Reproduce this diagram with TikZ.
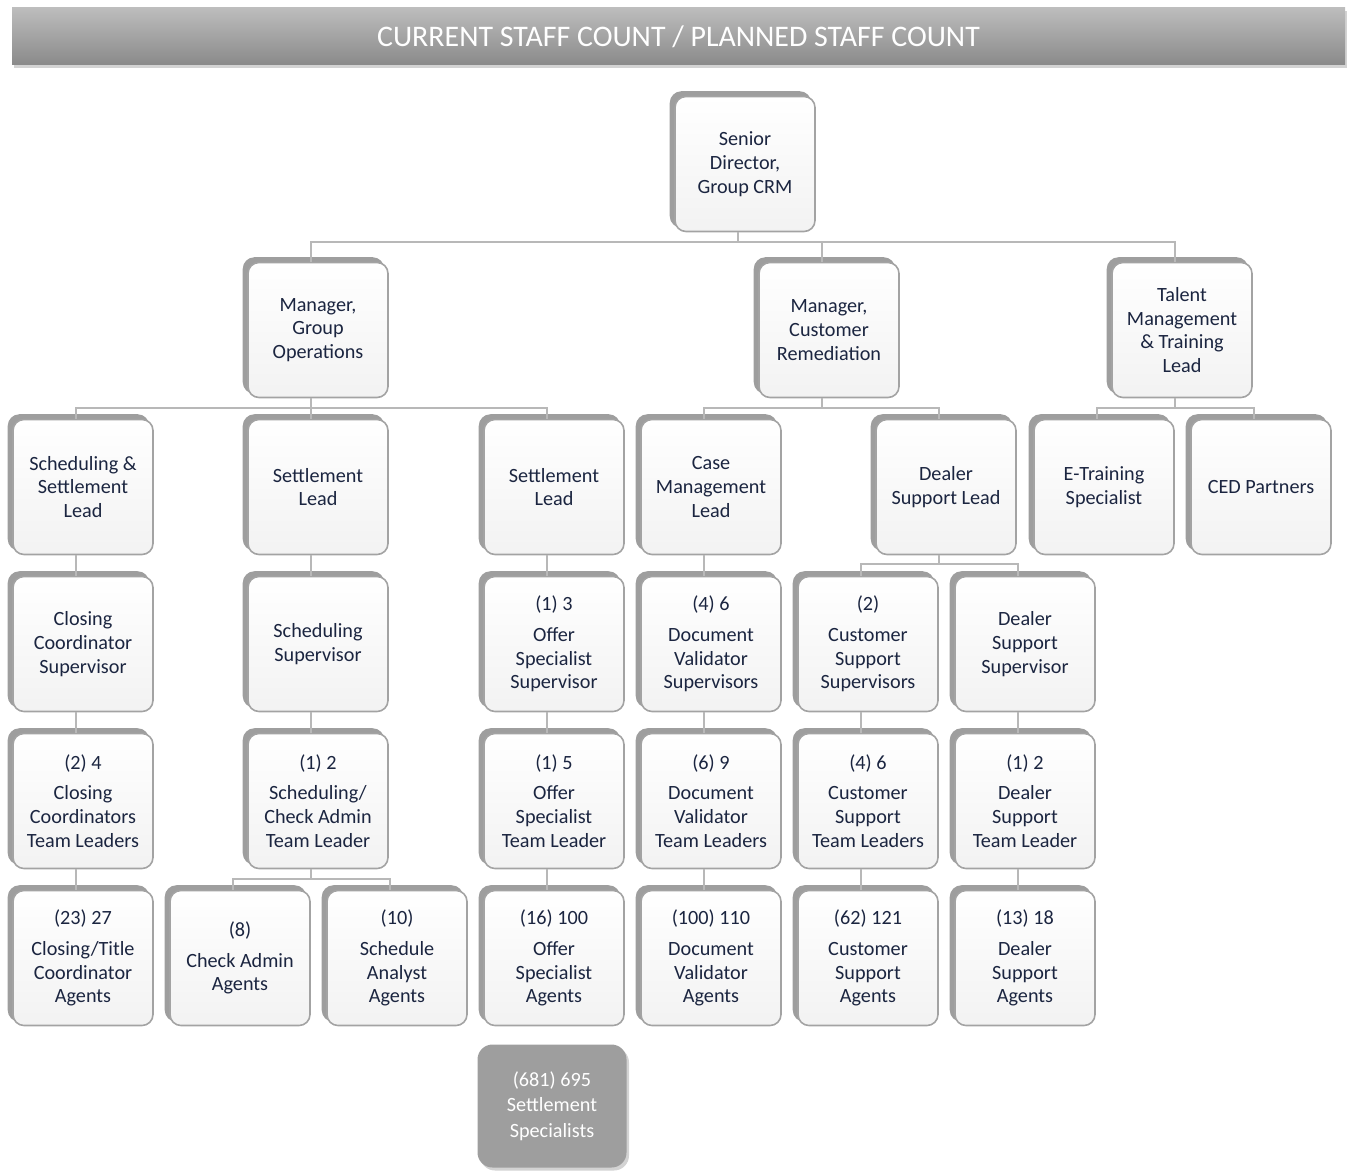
\documentclass[tikz,border=0pt]{standalone}
\usepackage{fontspec}
\setmainfont{Carlito}
\usepackage{xcolor}
\usetikzlibrary{shadows,calc}
\definecolor{navytext}{HTML}{1B2540}
\tikzset{
  staffbox/.style={draw=black!36,line width=0.9pt,rounded corners=0.22cm,
    top color=white,bottom color=black!5,text=navytext,align=center,
    minimum width=2.80cm,minimum height=2.70cm,inner sep=2pt,
    font=\fontsize{11.5}{13.5}\selectfont,
    copy shadow={shadow xshift=-0.09cm,shadow yshift=0.09cm,fill=black!38,draw=black!38}},
  specbox/.style={fill=black!38,rounded corners=0.3cm,text=white!92,align=center,
    minimum width=2.98cm,minimum height=2.46cm,
    font=\fontsize{11.5}{14.5}\selectfont,
    drop shadow={shadow xshift=0.05cm,shadow yshift=-0.06cm,opacity=0.35}},
  headbar/.style={top color=black!26,bottom color=black!46,draw=none,text=white,
    minimum width=26.66cm,minimum height=1.14cm,font=\fontsize{17}{20}\selectfont,
    drop shadow={shadow xshift=0.03cm,shadow yshift=-0.07cm,opacity=0.35}},
  link/.style={draw=black!28,line width=1.3pt,transform canvas={xshift=-0.14cm}}
}
\begin{document}
\begin{tikzpicture}
  \useasboundingbox (0,0) rectangle (26.94,-23.44);
  \node[headbar] (title) at (13.57,-0.73) {CURRENT STAFF COUNT / PLANNED STAFF COUNT};

  % top and managers
  \node[staffbox] (sdir) at (14.90,-3.28) {Senior\\ Director,\\ Group CRM};
  \node[staffbox] (mgo) at (6.36,-6.60) {Manager,\\ Group\\ Operations};
  \node[staffbox] (mcr) at (16.58,-6.60) {Manager,\\ Customer\\ Remediation};
  \node[staffbox] (tmt) at (23.64,-6.60) {Talent\\ Management\\ \& Training\\ Lead};

  % leads
  \node[staffbox] (ssl) at (1.66,-9.74) {Scheduling \&\\ Settlement\\ Lead};
  \node[staffbox] (sla) at (6.36,-9.74) {Settlement\\ Lead};
  \node[staffbox] (slb) at (11.08,-9.74) {Settlement\\ Lead};
  \node[staffbox] (cml) at (14.22,-9.74) {Case\\ Management\\ Lead};
  \node[staffbox] (dsl) at (18.92,-9.74) {Dealer\\ Support Lead};
  \node[staffbox] (etr) at (22.08,-9.74) {E-Training\\ Specialist};
  \node[staffbox] (ced) at (25.22,-9.74) {CED Partners};

  % supervisors
  \node[staffbox] (ccs) at (1.66,-12.88) {Closing\\ Coordinator\\ Supervisor};
  \node[staffbox] (ssup) at (6.36,-12.88) {Scheduling\\ Supervisor};
  \node[staffbox] (oss) at (11.08,-12.88) {(1) 3\\[4pt] Offer\\ Specialist\\ Supervisor};
  \node[staffbox] (dvs) at (14.22,-12.88) {(4) 6\\[4pt] Document\\ Validator\\ Supervisors};
  \node[staffbox] (css) at (17.36,-12.88) {(2)\\[4pt] Customer\\ Support\\ Supervisors};
  \node[staffbox] (dss) at (20.50,-12.88) {Dealer\\ Support\\ Supervisor};

  % team leaders
  \node[staffbox] (cctl) at (1.66,-16.02) {(2) 4\\[4pt] Closing\\ Coordinators\\ Team Leaders};
  \node[staffbox] (catl) at (6.36,-16.02) {(1) 2\\[4pt] Scheduling/\\ Check Admin\\ Team Leader};
  \node[staffbox] (ostl) at (11.08,-16.02) {(1) 5\\[4pt] Offer\\ Specialist\\ Team Leader};
  \node[staffbox] (dvtl) at (14.22,-16.02) {(6) 9\\[4pt] Document\\ Validator\\ Team Leaders};
  \node[staffbox] (cstl) at (17.36,-16.02) {(4) 6\\[4pt] Customer\\ Support\\ Team Leaders};
  \node[staffbox] (dstl) at (20.50,-16.02) {(1) 2\\[4pt] Dealer\\ Support\\ Team Leader};

  % agents
  \node[staffbox] (ctag) at (1.66,-19.16) {(23) 27\\[4pt] Closing/Title\\ Coordinator\\ Agents};
  \node[staffbox] (caag) at (4.80,-19.16) {(8)\\[4pt] Check Admin\\ Agents};
  \node[staffbox] (saag) at (7.94,-19.16) {(10)\\[4pt] Schedule\\ Analyst\\ Agents};
  \node[staffbox] (osag) at (11.08,-19.16) {(16) 100\\[4pt] Offer\\ Specialist\\ Agents};
  \node[staffbox] (dvag) at (14.22,-19.16) {(100) 110\\[4pt] Document\\ Validator\\ Agents};
  \node[staffbox] (csag) at (17.36,-19.16) {(62) 121\\[4pt] Customer\\ Support\\ Agents};
  \node[staffbox] (dsag) at (20.50,-19.16) {(13) 18\\[4pt] Dealer\\ Support\\ Agents};

  \node[specbox] (sspec) at (11.04,-22.12) {(681) 695\\ Settlement\\ Specialists};

  % connectors
  \foreach \c in {mgo,mcr,tmt}
    \draw[link] (sdir.south) -- ++(0,-0.19) -| (\c.north);
  \foreach \c in {ssl,sla,slb}
    \draw[link] (mgo.south) -- ++(0,-0.19) -| (\c.north);
  \foreach \c in {cml,dsl}
    \draw[link] (mcr.south) -- ++(0,-0.19) -| (\c.north);
  \foreach \c in {etr,ced}
    \draw[link] (tmt.south) -- ++(0,-0.19) -| (\c.north);
  \foreach \c in {css,dss}
    \draw[link] (dsl.south) -- ++(0,-0.17) -| (\c.north);
  \foreach \c in {caag,saag}
    \draw[link] (catl.south) -- ++(0,-0.19) -| (\c.north);
  \draw[link] (ssl) -- (ccs);
  \draw[link] (ccs) -- (cctl);
  \draw[link] (cctl) -- (ctag);
  \draw[link] (sla) -- (ssup);
  \draw[link] (ssup) -- (catl);
  \draw[link] (slb) -- (oss);
  \draw[link] (oss) -- (ostl);
  \draw[link] (ostl) -- (osag);
  \draw[link] (cml) -- (dvs);
  \draw[link] (dvs) -- (dvtl);
  \draw[link] (dvtl) -- (dvag);
  \draw[link] (css) -- (cstl);
  \draw[link] (cstl) -- (csag);
  \draw[link] (dss) -- (dstl);
  \draw[link] (dstl) -- (dsag);
\end{tikzpicture}
\end{document}
